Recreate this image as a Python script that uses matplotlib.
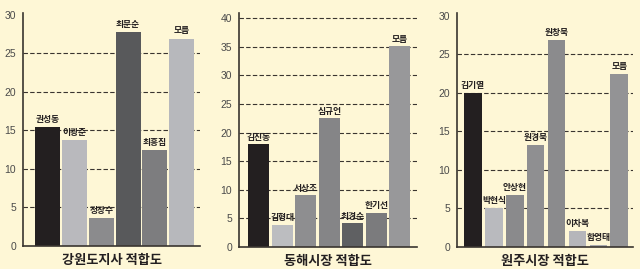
import matplotlib
matplotlib.use("Agg")
import matplotlib.pyplot as plt

plt.rcParams['font.family'] = ['Noto Sans CJK KR', 'DejaVu Sans']

# 강원도지사
gw_names = ['권성동', '이광준', '정장수', '최문순', '최흥집', '모름']
gw_vals = [15.4, 13.7, 3.6, 27.7, 12.4, 26.9]
gw_colors = ['#231f20', '#b9b9bd', '#8b8b8d', '#58595b', '#7d7d7f', '#b7b8bc']

# 동해시장
dh_names = ['김진동', '김형대', '서상조', '심규언', '최경순', '한기선', '모름']
dh_vals = [18.0, 3.9, 9.1, 22.5, 4.1, 6.0, 35.1]
dh_colors = ['#231f20', '#bcbdc0', '#8e8e90', '#858587', '#5f6062', '#7b7b7d', '#98989a']

# 원주시장
wj_names = ['김기열', '박현식', '안상현', '원경묵', '원창묵', '이차복', '함영태', '모름']
wj_vals = [20.0, 5.1, 6.7, 13.2, 26.9, 2.1, 0.3, 22.4]
wj_colors = ['#231f20', '#b9babe', '#8a8a8c', '#8f8f91', '#8b8b8d', '#b5b6ba', '#a9aaad', '#939395']

bg = '#fef7d6'
ink = '#3a3530'

fig = plt.figure(figsize=(6.4, 2.69), dpi=100, facecolor=bg)

panels = [
    ('강원도지사 적합도', gw_names, gw_vals, gw_colors,
     [0.036, 0.0855, 0.277, 0.866], (-0.91, 5.69), 30.2, 5, [5, 10, 15, 20, 25], 0.93),
    ('동해시장 적합도', dh_names, dh_vals, dh_colors,
     [0.3734, 0.082, 0.278, 0.870], (-0.83, 6.72), 40.9, 5, [5, 10, 15, 20, 25, 30, 35, 40], 0.89),
    ('원주시장 적합도', wj_names, wj_vals, wj_colors,
     [0.714, 0.082, 0.275, 0.870], (-0.77, 7.66), 30.4, 5, [5, 10, 15, 20, 25], 0.84),
]

for title, names, vals, colors, rect, xlim, ytop, step, grid, w in panels:
    ax = fig.add_axes(rect, facecolor=bg)
    x = list(range(len(vals)))
    for g in grid:
        ax.axhline(g, color=ink, lw=0.8, dashes=(4, 2), zorder=1)
    ax.bar(x, vals, width=w, color=colors, zorder=2)
    for xi, v, n in zip(x, vals, names):
        ax.text(xi, v + 0.4, n, ha='center', va='bottom', fontsize=6.3,
                fontweight='bold', color='#231f20', zorder=3)
    ax.set_xlim(*xlim)
    ax.set_ylim(0, ytop)
    ax.set_yticks(range(0, int(ytop) + 1, step))
    ax.set_xticks([])
    ax.tick_params(axis='y', length=0, pad=5, labelsize=7.5, labelcolor='#4a4a4a')
    for lab in ax.get_yticklabels():
        lab.set_family('Liberation Sans')
    for s in ['top', 'right']:
        ax.spines[s].set_visible(False)
    for s in ['left', 'bottom']:
        ax.spines[s].set_color(ink)
        ax.spines[s].set_linewidth(1.2)
    ax.text(0.5, -0.03, title, transform=ax.transAxes, ha='center', va='top',
            fontsize=9.5, fontweight='bold', color='#231f20')

fig.savefig('out.png', dpi=100, facecolor=bg)
